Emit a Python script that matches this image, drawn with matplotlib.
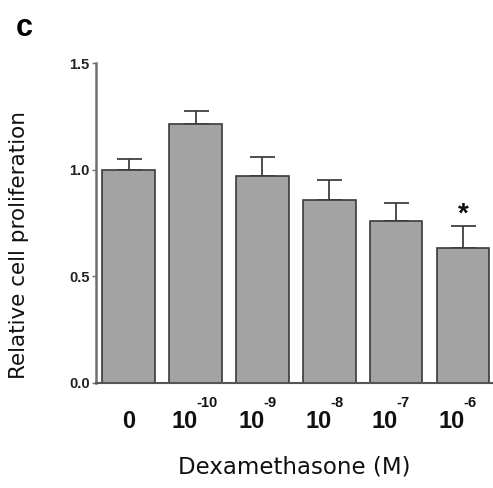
import matplotlib
matplotlib.use('Agg')
import matplotlib.pyplot as plt
import matplotlib.transforms as mtransforms

# data
groups = ['0', '-10', '-9', '-8', '-7', '-6']
means = [1.00, 1.215, 0.97, 0.86, 0.76, 0.635]
errs = [0.05, 0.062, 0.09, 0.093, 0.082, 0.10]
signif = [False, False, False, False, False, True]
yticks = [0.0, 0.5, 1.0, 1.5]
ytick_labels = ['0.0', '0.5', '1.0', '1.5']

bar_color = '#a3a3a3'
edge_color = '#3a3a3a'
axis_color = '#707070'

fig = plt.figure(figsize=(4.93, 4.88), dpi=100)
ax = fig.add_axes([0.1947, 0.2152, 0.8053, 0.6557])

x = list(range(len(means)))
ax.bar(x, means, width=0.79, color=bar_color, edgecolor=edge_color, linewidth=1.2, zorder=2)
ax.errorbar(x, means, yerr=[[0] * len(errs), errs], fmt='none', ecolor='#404040',
            elinewidth=1.3, capsize=9, capthick=1.3, zorder=1)

# asterisk for significance
for i, (m, e, s) in enumerate(zip(means, errs, signif)):
    if s:
        ax.text(i, m + e + 0.055, '*', ha='center', va='center', fontsize=20,
                fontweight='bold', family='Liberation Sans', color='#111111')

ax.set_xlim(-0.49, 5.45)
ax.set_ylim(0, 1.5)
ax.set_yticks(yticks)
ax.set_yticklabels(ytick_labels, fontsize=10.5, fontweight='bold', family='Liberation Sans',
                   color='#222222')
ax.tick_params(axis='y', length=3, width=1, color=axis_color, pad=1.5)
ax.set_xticks([])

for side in ['top', 'right']:
    ax.spines[side].set_visible(False)
ax.spines['left'].set_color(axis_color)
ax.spines['left'].set_linewidth(1.8)
ax.spines['bottom'].set_color('#555555')
ax.spines['bottom'].set_linewidth(1.5)

# x tick labels: "0" and powers of ten with raised exponents
trans = mtransforms.blended_transform_factory(ax.transData, ax.transAxes)
for i, g in enumerate(groups):
    if g == '0':
        ax.text(i, -0.119, '0', transform=trans, ha='center', va='center', fontsize=17,
                fontweight='bold', family='Liberation Sans', color='#111111')
    else:
        ax.text(i + 0.03, -0.119, '10', transform=trans, ha='right', va='center', fontsize=17,
                fontweight='bold', family='Liberation Sans', color='#111111')
        ax.text(i + 0.01, -0.0625, g, transform=trans, ha='left', va='center', fontsize=10.5,
                fontweight='bold', family='Liberation Sans', color='#111111')

ax.set_xlabel('Dexamethasone (M)', fontsize=16.5, family='DejaVu Sans', va='center',
              color='#111111')
ax.xaxis.set_label_coords(0.5, -0.2625)
ax.set_ylabel('Relative cell proliferation', fontsize=15.5, family='DejaVu Sans',
              va='center', ha='center', color='#111111')
ax.yaxis.set_label_coords(-0.194, 0.431)

fig.text(0.0487, 0.943, 'c', ha='center', va='center', fontsize=22, fontweight='bold',
         family='Liberation Sans')

fig.savefig('out.png', dpi=100)
